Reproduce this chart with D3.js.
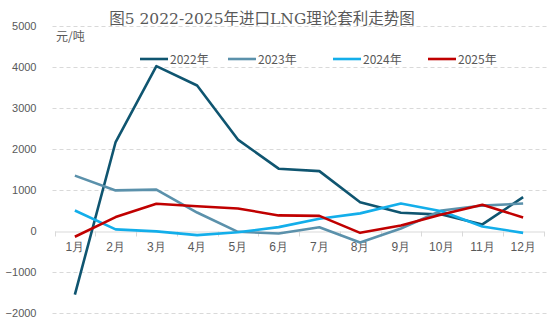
<!DOCTYPE html>
<html>
<head>
<meta charset="utf-8">
<title>进口LNG理论套利走势图</title>
<style>
  body { margin: 0; background: #fff; }
  svg { display: block; font-family: "Noto Sans CJK SC", "Noto Sans", sans-serif; }
  .grid line { stroke: #d9d9d9; stroke-dasharray: 4 3; }
  .axis text { fill: #595959; font-size: 11px; }
  .series { fill: none; stroke-width: 2.6; stroke-linejoin: round; }
</style>
</head>
<body>
<svg width="552" height="325"></svg>
<script src="https://d3js.org/d3.v7.min.js"></script>
<script>
// 月份与各年套利值（元/吨）
var months = ["1月","2月","3月","4月","5月","6月","7月","8月","9月","10月","11月","12月"];
var years = ["2022年","2023年","2024年","2025年"];
var v2022 = [-1550, 2170, 4020, 3550, 2230, 1520, 1460, 700, 445, 400, 160, 825];
var v2023 = [1350, 990, 1010, 450, -20, -60, 90, -280, 60, 500, 620, 670];
var v2024 = [500, 40, -10, -100, -30, 95, 300, 430, 670, 480, 110, -45];
var v2025 = [-140, 340, 665, 605, 550, 380, 370, -45, 135, 400, 640, 330];
var yTicks = [-2000, -1000, 0, 1000, 2000, 3000, 4000, 5000];
var colors = ["#0f5570", "#5b91ab", "#13aeea", "#c00000"];

var series = [v2022, v2023, v2024, v2025];

var svg = d3.select("svg");
var plot = {left: 54.5, right: 543.5, top: 26, bottom: 313};

var x = d3.scaleBand().domain(months).range([plot.left, plot.right]);
var y = d3.scaleLinear().domain([-2000, 5000]).range([plot.bottom, plot.top]);

// 网格线
svg.append("g").attr("class", "grid")
  .selectAll("line").data(yTicks.filter(function(d) { return d !== 0; }))
  .enter().append("line")
  .attr("x1", plot.left - 2).attr("x2", plot.right + 4)
  .attr("y1", function(d) { return Math.round(y(d)) + 0.5; })
  .attr("y2", function(d) { return Math.round(y(d)) + 0.5; });

// 标题
svg.append("text")
  .attr("x", 262).attr("y", 24)
  .attr("text-anchor", "middle")
  .attr("fill", "#595959")
  .style("font-family", "'DejaVu Serif', 'Noto Sans CJK SC', serif")
  .style("font-size", "15.5px")
  .text("图5 2022-2025年进口LNG理论套利走势图");

// y轴
var yAxis = svg.append("g").attr("class", "axis")
  .attr("transform", "translate(" + (plot.left - 8) + ",0)")
  .call(d3.axisLeft(y).tickValues(yTicks).tickSize(0).tickPadding(10).tickFormat(d3.format("d")));
yAxis.select(".domain").remove();

svg.append("text")
  .attr("x", 56).attr("y", 41)
  .attr("fill", "#595959")
  .style("font-size", "12px")
  .text("元/吨");

// x轴（零线）
var xAxis = svg.append("g").attr("class", "axis")
  .attr("transform", "translate(0," + (Math.round(y(0)) + 0.5) + ")")
  .call(d3.axisBottom(x).tickSize(0).tickPadding(11));
xAxis.select(".domain").attr("stroke", "#d9d9d9");
xAxis.selectAll("text").style("font-size", "12px");
xAxis.selectAll(".sep").data(d3.range(months.length + 1))
  .enter().append("line")
  .attr("stroke", "#d9d9d9")
  .attr("x1", function(i) { return Math.round(plot.left + i * x.bandwidth()) + 0.5; })
  .attr("x2", function(i) { return Math.round(plot.left + i * x.bandwidth()) + 0.5; })
  .attr("y1", 0).attr("y2", 5);

// 折线
var line = d3.line()
  .x(function(d, i) { return x(months[i]) + x.bandwidth() / 2; })
  .y(function(d) { return y(d); });

svg.selectAll(".series").data(series)
  .enter().append("path")
  .attr("class", "series")
  .attr("stroke", function(d, i) { return colors[i]; })
  .attr("d", line);

// 图例
var legendX = [140, 228, 333, 428];
var legend = svg.selectAll(".legend").data(years)
  .enter().append("g")
  .attr("transform", function(d, i) { return "translate(" + legendX[i] + ",59)"; });
legend.append("line")
  .attr("x1", 0).attr("x2", 28)
  .attr("stroke", function(d, i) { return colors[i]; })
  .attr("stroke-width", 2.6);
legend.append("text")
  .attr("x", 30).attr("y", 4.5)
  .attr("fill", "#595959")
  .style("font-size", "12px")
  .text(function(d) { return d; });
</script>
</body>
</html>
